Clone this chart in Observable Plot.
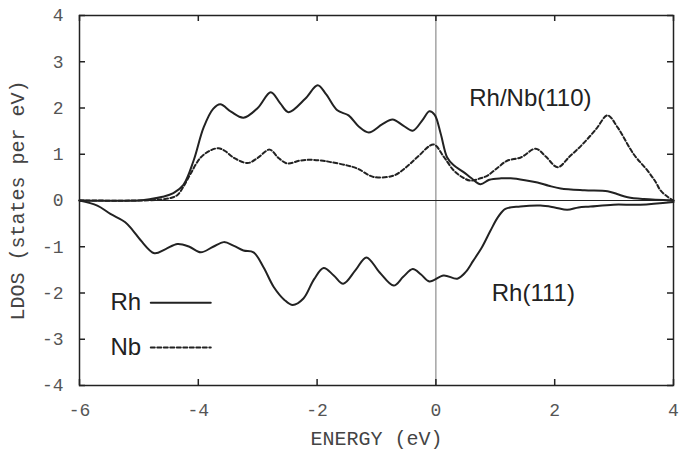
<!DOCTYPE html>
<html><head><meta charset="utf-8">
<script src="https://cdn.jsdelivr.net/npm/d3@7"></script>
<script src="https://cdn.jsdelivr.net/npm/@observablehq/plot@0.6"></script>
<style>body{margin:0;background:#fff}</style>
</head><body><div id="chart"></div>
<script>
// Rh/Nb(110): Rh LDOS (solid)
const rhNbX = [-6,-5,-4.8,-4.6,-4.42,-4.25,-4.08,-3.91,-3.75,-3.63,-3.45,-3.24,-3.0,-2.78,-2.62,-2.48,-2.2,-1.99,-1.85,-1.66,-1.47,-1.3,-1.13,-0.9,-0.73,-0.55,-0.39,-0.22,-0.11,-0.02,0.08,0.19,0.3,0.46,0.6,0.75,0.9,1.1,1.26,1.5,1.71,1.9,2.1,2.5,2.89,3.05,3.23,3.5,4];
const rhNbY = [0,0,0.03,0.08,0.16,0.34,0.86,1.58,1.98,2.08,1.92,1.79,2.0,2.34,2.1,1.91,2.2,2.49,2.3,1.95,1.84,1.6,1.47,1.65,1.75,1.62,1.51,1.75,1.93,1.85,1.45,0.93,0.76,0.62,0.48,0.35,0.45,0.48,0.48,0.44,0.39,0.32,0.26,0.22,0.2,0.14,0.07,0.03,0];
// Rh/Nb(110): Nb LDOS (dashed)
const nbX = [-6,-5,-4.64,-4.45,-4.35,-4.25,-4.13,-3.96,-3.8,-3.66,-3.55,-3.41,-3.17,-3.0,-2.8,-2.65,-2.5,-2.3,-2.11,-1.9,-1.77,-1.5,-1.32,-1.05,-0.71,-0.5,-0.31,-0.04,0.13,0.3,0.45,0.58,0.75,0.87,1.05,1.2,1.43,1.68,1.85,2.05,2.25,2.48,2.7,2.89,3.06,3.33,3.56,3.7,3.78,3.9,4];
const nbY = [0,0,0.02,0.06,0.12,0.3,0.58,0.93,1.08,1.13,1.07,0.93,0.81,0.92,1.1,0.92,0.8,0.86,0.88,0.86,0.83,0.76,0.69,0.51,0.54,0.72,0.94,1.21,0.95,0.65,0.5,0.43,0.48,0.54,0.72,0.86,0.93,1.12,0.95,0.72,0.95,1.23,1.55,1.84,1.58,1.0,0.65,0.4,0.22,0.08,0];
// Rh(111) LDOS (solid, plotted negative)
const rh111X = [-6,-5.7,-5.48,-5.23,-5.1,-4.97,-4.74,-4.55,-4.35,-4.15,-3.96,-3.75,-3.57,-3.4,-3.24,-3.07,-2.9,-2.73,-2.55,-2.41,-2.23,-2.05,-1.89,-1.72,-1.56,-1.35,-1.17,-0.95,-0.71,-0.55,-0.39,-0.25,-0.11,0.13,0.36,0.5,0.63,0.78,0.92,1.05,1.17,1.42,1.76,2.0,2.21,2.4,2.6,2.99,3.44,4];
const rh111Y = [0,-0.11,-0.29,-0.47,-0.65,-0.86,-1.14,-1.05,-0.94,-1.0,-1.12,-1.0,-0.9,-0.98,-1.08,-1.12,-1.45,-1.87,-2.15,-2.26,-2.12,-1.7,-1.46,-1.62,-1.8,-1.5,-1.23,-1.55,-1.84,-1.65,-1.48,-1.6,-1.75,-1.62,-1.69,-1.55,-1.3,-1.0,-0.65,-0.35,-0.18,-0.13,-0.11,-0.15,-0.2,-0.15,-0.13,-0.09,-0.09,-0.03];

const xTicks = [-6,-4,-2,0,2,4];
const yTicks = [-4,-3,-2,-1,0,1,2,3,4];

// annotations
const labels = [
  {x: 1.59, y: 2.2, text: "Rh/Nb(110)"},
  {x: 1.64, y: -2.01, text: "Rh(111)"}
];
const legendNames = ["Rh", "Nb"];
const legendY = [-2.21, -3.18];
const legendTextX = -5.48;
const legendLineX = [-4.80, -3.79];

const toPts = (xs, ys) => xs.map((x, i) => ({x, y: ys[i]}));
const rhNb = toPts(rhNbX, rhNbY);
const nb = toPts(nbX, nbY);
const rh111 = toPts(rh111X, rh111Y);
const legendText = legendNames.map((t, i) => ({x: legendTextX, y: legendY[i], text: t}));
const legendLine = (i) => legendLineX.map(x => ({x, y: legendY[i]}));

const mono = "'Liberation Mono', 'DejaVu Sans Mono', monospace";
const sans = "'Liberation Sans', Arial, sans-serif";
const fmt = d => String(d);

const W = 683, H = 449, mL = 79, mR = 10, mT = 15, mB = 64;
const xDom = [-6, 4], yDom = [-4, 4];
// inward tick length of ~6px, expressed in data units of each scale
const tkX = (xDom[1] - xDom[0]) * 6 / (W - mL - mR);
const tkY = (yDom[1] - yDom[0]) * 6 / (H - mT - mB);

const chart = Plot.plot({
  width: W, height: H,
  marginLeft: mL, marginRight: mR, marginTop: mT, marginBottom: mB,
  style: {background: "#fff", fontFamily: mono},
  x: {domain: xDom},
  y: {domain: yDom},
  marks: [
    Plot.ruleX([0], {stroke: "#777", strokeWidth: 1}),
    Plot.ruleY([0], {stroke: "#222", strokeWidth: 1}),
    Plot.axisX({ticks: xTicks, tickSize: 0, tickPadding: 18, tickFormat: fmt, fontSize: 18, fill: "#555", fontFamily: mono, label: null}),
    Plot.axisY({ticks: yTicks, tickSize: 0, tickPadding: 16, tickFormat: fmt, fontSize: 18, fill: "#555", fontFamily: mono, label: null}),
    // inward tick marks on all four sides
    Plot.ruleX(xTicks, {x: d => d, y1: yDom[0], y2: yDom[0] + tkY, stroke: "#222", strokeWidth: 1.5}),
    Plot.ruleX(xTicks, {x: d => d, y1: yDom[1] - tkY, y2: yDom[1], stroke: "#222", strokeWidth: 1.5}),
    Plot.ruleY(yTicks, {y: d => d, x1: xDom[0], x2: xDom[0] + tkX, stroke: "#222", strokeWidth: 1.5}),
    Plot.ruleY(yTicks, {y: d => d, x1: xDom[1] - tkX, x2: xDom[1], stroke: "#222", strokeWidth: 1.5}),
    Plot.frame({stroke: "#222", strokeWidth: 1.5}),
    Plot.line(nb, {x: "x", y: "y", curve: "catmull-rom", stroke: "#222", strokeWidth: 2, strokeDasharray: "4,2.5"}),
    Plot.line(rhNb, {x: "x", y: "y", curve: "catmull-rom", stroke: "#222", strokeWidth: 2}),
    Plot.line(rh111, {x: "x", y: "y", curve: "catmull-rom", stroke: "#222", strokeWidth: 2}),
    Plot.text(labels, {x: "x", y: "y", text: "text", fontFamily: sans, fontSize: 24, fill: "#222"}),
    Plot.text(legendText, {x: "x", y: "y", text: "text", textAnchor: "start", fontFamily: sans, fontSize: 24, fill: "#222"}),
    Plot.line(legendLine(0), {x: "x", y: "y", stroke: "#222", strokeWidth: 2}),
    Plot.line(legendLine(1), {x: "x", y: "y", stroke: "#222", strokeWidth: 2, strokeDasharray: "4,2.5"}),
    Plot.text(["ENERGY (eV)"], {frameAnchor: "bottom", dy: 59, textAnchor: "middle", fontFamily: mono, fontSize: 20, fill: "#444"}),
    Plot.text(["LDOS (states per eV)"], {frameAnchor: "left", dx: -62, rotate: -90, textAnchor: "middle", fontFamily: mono, fontSize: 20, fill: "#444"})
  ]
});
document.getElementById("chart").appendChild(chart);
</script>
</body></html>
